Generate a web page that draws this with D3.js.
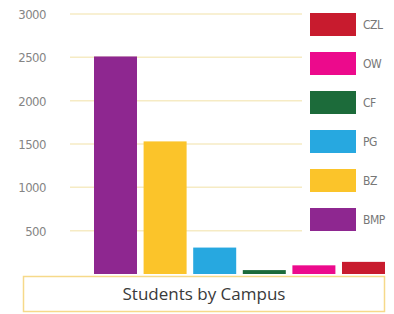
<!DOCTYPE html>
<html>
<head>
<meta charset="utf-8">
<script src="https://cdn.jsdelivr.net/npm/d3@7"></script>
<style>
  body { margin: 0; background: #fff; }
</style>
</head>
<body>
<div id="chart"></div>
<script>
const campuses = ['BMP', 'BZ', 'PG', 'CF', 'OW', 'CZL'];
const students = [2510, 1530, 305, 45, 100, 140];
const campusColors = ['#8e2790', '#fbc42a', '#27a8e0', '#1c6b3a', '#ec0a8c', '#c81b2e'];
const yTicks = [500, 1000, 1500, 2000, 2500, 3000];
const legendOrder = ['CZL', 'OW', 'CF', 'PG', 'BZ', 'BMP'];

const W = 394, H = 314;
const labelFont = '"DejaVu Sans Condensed", "Liberation Sans Narrow", sans-serif';

const svg = d3.select('#chart')
  .append('svg')
  .attr('width', W)
  .attr('height', H);

const x = d3.scaleBand()
  .domain(campuses)
  .range([94, 385])
  .paddingInner(0.133)
  .paddingOuter(0);

const y = d3.scaleLinear()
  .domain([0, 3000])
  .range([274, 14]);

// gridlines
svg.append('g')
  .selectAll('line')
  .data(yTicks)
  .enter().append('line')
  .attr('x1', 70)
  .attr('x2', 302)
  .attr('y1', (d) => y(d))
  .attr('y2', (d) => y(d))
  .attr('stroke', '#f6ebc4')
  .attr('stroke-width', 1.5);

// y labels
svg.append('g')
  .selectAll('text')
  .data(yTicks)
  .enter().append('text')
  .attr('x', 46)
  .attr('y', (d) => y(d) + 5)
  .attr('text-anchor', 'end')
  .style('font-family', labelFont)
  .style('font-size', '13px')
  .style('letter-spacing', '-0.5px')
  .attr('fill', '#858585')
  .text((d) => d);

// bars
svg.append('g')
  .selectAll('rect')
  .data(campuses)
  .enter().append('rect')
  .attr('x', (d) => x(d))
  .attr('width', x.bandwidth())
  .attr('y', (d, i) => y(students[i]))
  .attr('height', (d, i) => y(0) - y(students[i]))
  .attr('fill', (d, i) => campusColors[i]);

// legend
const legend = svg.append('g')
  .attr('transform', 'translate(310, 13)');

legendOrder.forEach((key, index) => {
  const row = legend.append('g')
    .attr('transform', `translate(0, ${index * 39})`);

  row.append('rect')
    .attr('width', 46)
    .attr('height', 23)
    .attr('fill', campusColors[campuses.indexOf(key)]);

  row.append('text')
    .attr('x', 53)
    .attr('y', 16)
    .style('font-family', labelFont)
    .style('font-size', '12px')
    .style('letter-spacing', '-0.5px')
    .attr('fill', '#777')
    .text(key);
});

// title box
svg.append('rect')
  .attr('x', 23.5)
  .attr('y', 276.5)
  .attr('width', 361)
  .attr('height', 35)
  .attr('fill', '#fff')
  .attr('stroke', '#f6d98a')
  .attr('stroke-width', 1.5);

svg.append('text')
  .attr('x', 204)
  .attr('y', 300)
  .attr('text-anchor', 'middle')
  .style('font-family', '"Open Sans", sans-serif')
  .style('font-size', '17px')
  .attr('fill', '#3a3a3a')
  .text('Students by Campus');
</script>
</body>
</html>
